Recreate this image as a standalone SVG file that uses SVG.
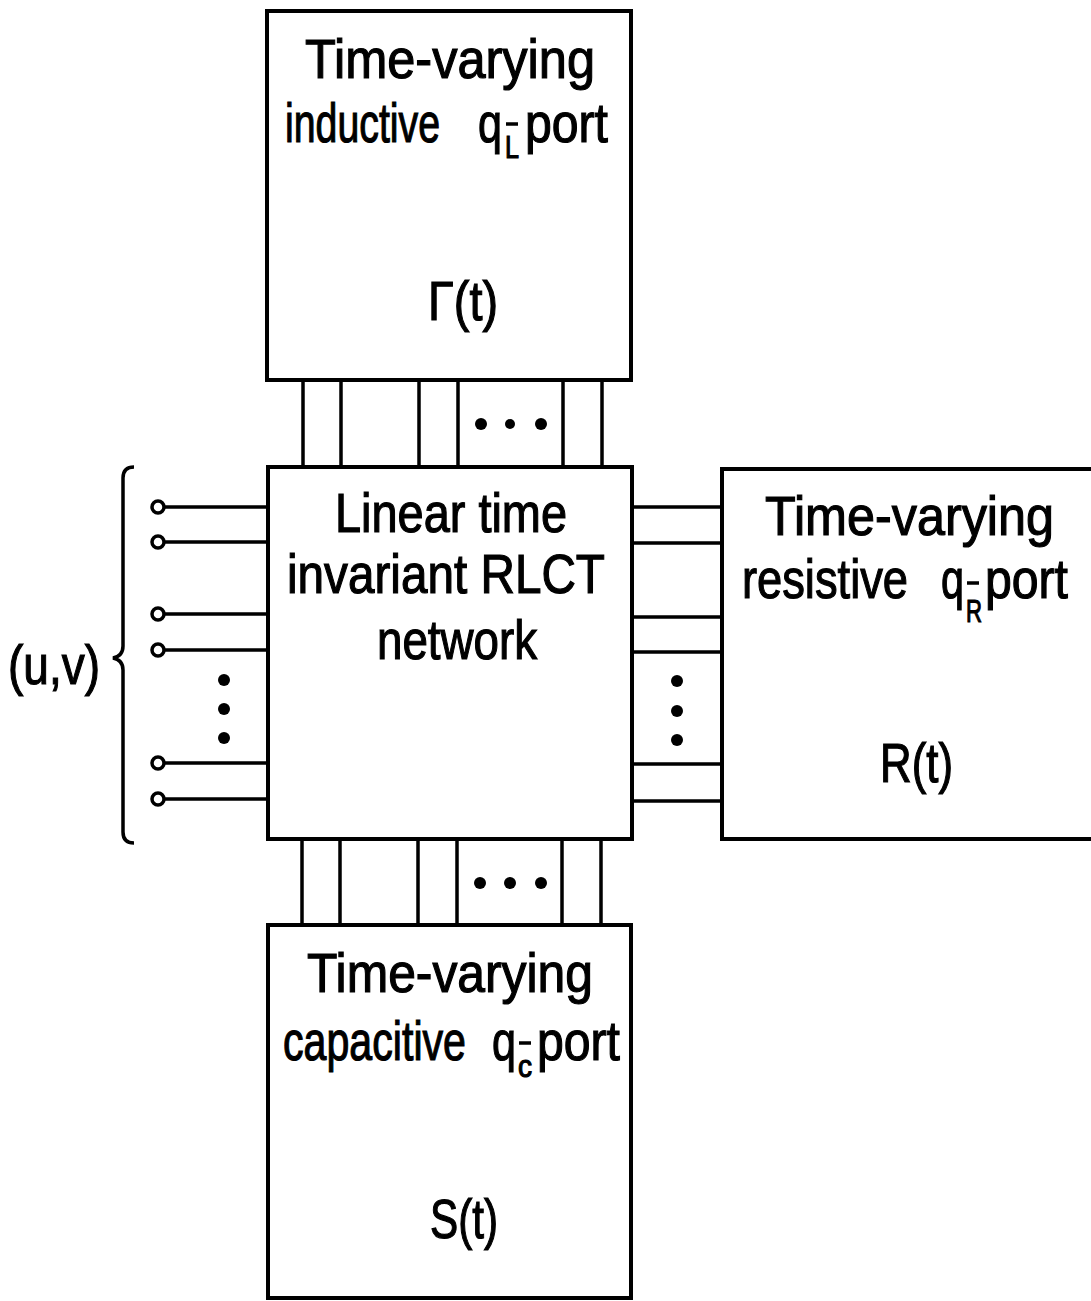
<svg xmlns="http://www.w3.org/2000/svg" width="1091" height="1301" viewBox="0 0 1091 1301">
<style>
.box{fill:none;stroke:#000;stroke-width:4}
.ln{fill:none;stroke:#000;stroke-width:3.5}
.t{font-family:"Liberation Sans",Arial,sans-serif;font-size:56px;fill:#000;stroke:#000;stroke-width:1.2}
.s{font-size:32px}
.dot{fill:#000}
.term{fill:#fff;stroke:#000;stroke-width:3.5}
</style>
<rect width="1091" height="1301" fill="#fff"/>
<g id="connectors">
  <path class="ln" d="M303 380V467M341 380V467M419 380V467M458 380V467M563 380V467M602 380V467"/>
  <path class="ln" d="M302 839V925M340 839V925M418 839V925M457 839V925M562 839V925M601 839V925"/>
  <path class="ln" d="M632 507H722M632 543H722M632 617H722M632 652H722M632 764H722M632 801H722"/>
  <path class="ln" d="M164 507H268M164 542H268M164 614H268M164 650H268M164 763H268M164 799H268"/>
  <circle class="term" cx="158" cy="507" r="6"/>
  <circle class="term" cx="158" cy="542" r="6"/>
  <circle class="term" cx="158" cy="614" r="6"/>
  <circle class="term" cx="158" cy="650" r="6"/>
  <circle class="term" cx="158" cy="763" r="6"/>
  <circle class="term" cx="158" cy="799" r="6"/>
  <circle class="dot" cx="481" cy="424" r="6"/>
  <circle class="dot" cx="510" cy="424" r="5"/>
  <circle class="dot" cx="541" cy="424" r="6"/>
  <circle class="dot" cx="480" cy="883" r="6"/>
  <circle class="dot" cx="510" cy="883" r="6"/>
  <circle class="dot" cx="541" cy="883" r="6"/>
  <circle class="dot" cx="224" cy="680" r="6"/>
  <circle class="dot" cx="224" cy="709" r="6"/>
  <circle class="dot" cx="224" cy="738" r="6"/>
  <circle class="dot" cx="677" cy="681" r="6"/>
  <circle class="dot" cx="677" cy="711" r="6"/>
  <circle class="dot" cx="677" cy="740" r="6"/>
  <path class="ln" d="M134 467Q123 467 123 478V646Q123 656 113 658Q123 660 123 670V832Q123 843 134 843"/>
  <text class="t" x="8" y="684" textLength="92" lengthAdjust="spacingAndGlyphs">(u,v)</text>
</g>
<g id="node-inductive">
  <rect class="box" x="267" y="11" width="364" height="369"/>
  <text class="t" x="305" y="78" textLength="290" lengthAdjust="spacingAndGlyphs">Time-varying</text>
  <text class="t" y="142"><tspan x="285" textLength="155" lengthAdjust="spacingAndGlyphs">inductive</tspan><tspan x="478" textLength="24" lengthAdjust="spacingAndGlyphs">q</tspan><tspan class="s" x="505" y="158" textLength="14" lengthAdjust="spacingAndGlyphs">L</tspan><tspan x="525" y="142" textLength="83" lengthAdjust="spacingAndGlyphs">port</tspan></text>
  <path class="ln" d="M506 124H518"/>
  <text class="t" x="428" y="320" textLength="70" lengthAdjust="spacingAndGlyphs">Γ(t)</text>
</g>
<g id="node-network">
  <rect class="box" x="268" y="467" width="364" height="372"/>
  <text class="t" x="335" y="532" textLength="232" lengthAdjust="spacingAndGlyphs">Linear time</text>
  <text class="t" x="287" y="593" textLength="318" lengthAdjust="spacingAndGlyphs">invariant RLCT</text>
  <text class="t" x="377" y="659" textLength="160" lengthAdjust="spacingAndGlyphs">network</text>
</g>
<g id="node-resistive">
  <path class="box" d="M1091 469H722V839H1091"/>
  <text class="t" x="765" y="535" textLength="289" lengthAdjust="spacingAndGlyphs">Time-varying</text>
  <text class="t" y="598"><tspan x="742" textLength="166" lengthAdjust="spacingAndGlyphs">resistive</tspan><tspan x="941" textLength="23" lengthAdjust="spacingAndGlyphs">q</tspan><tspan class="s" x="966" y="622" textLength="16" lengthAdjust="spacingAndGlyphs">R</tspan><tspan x="985" y="598" textLength="83" lengthAdjust="spacingAndGlyphs">port</tspan></text>
  <path class="ln" d="M967 583H979"/>
  <text class="t" x="880" y="782" textLength="73" lengthAdjust="spacingAndGlyphs">R(t)</text>
</g>
<g id="node-capacitive">
  <rect class="box" x="268" y="925" width="363" height="373"/>
  <text class="t" x="307" y="992" textLength="286" lengthAdjust="spacingAndGlyphs">Time-varying</text>
  <text class="t" y="1060"><tspan x="283" textLength="183" lengthAdjust="spacingAndGlyphs">capacitive</tspan><tspan x="492" textLength="24" lengthAdjust="spacingAndGlyphs">q</tspan><tspan class="s" x="518" y="1077" textLength="14" lengthAdjust="spacingAndGlyphs">c</tspan><tspan x="537" y="1060" textLength="83" lengthAdjust="spacingAndGlyphs">port</tspan></text>
  <path class="ln" d="M519 1043H531"/>
  <text class="t" x="430" y="1238" textLength="68" lengthAdjust="spacingAndGlyphs">S(t)</text>
</g>
</svg>
